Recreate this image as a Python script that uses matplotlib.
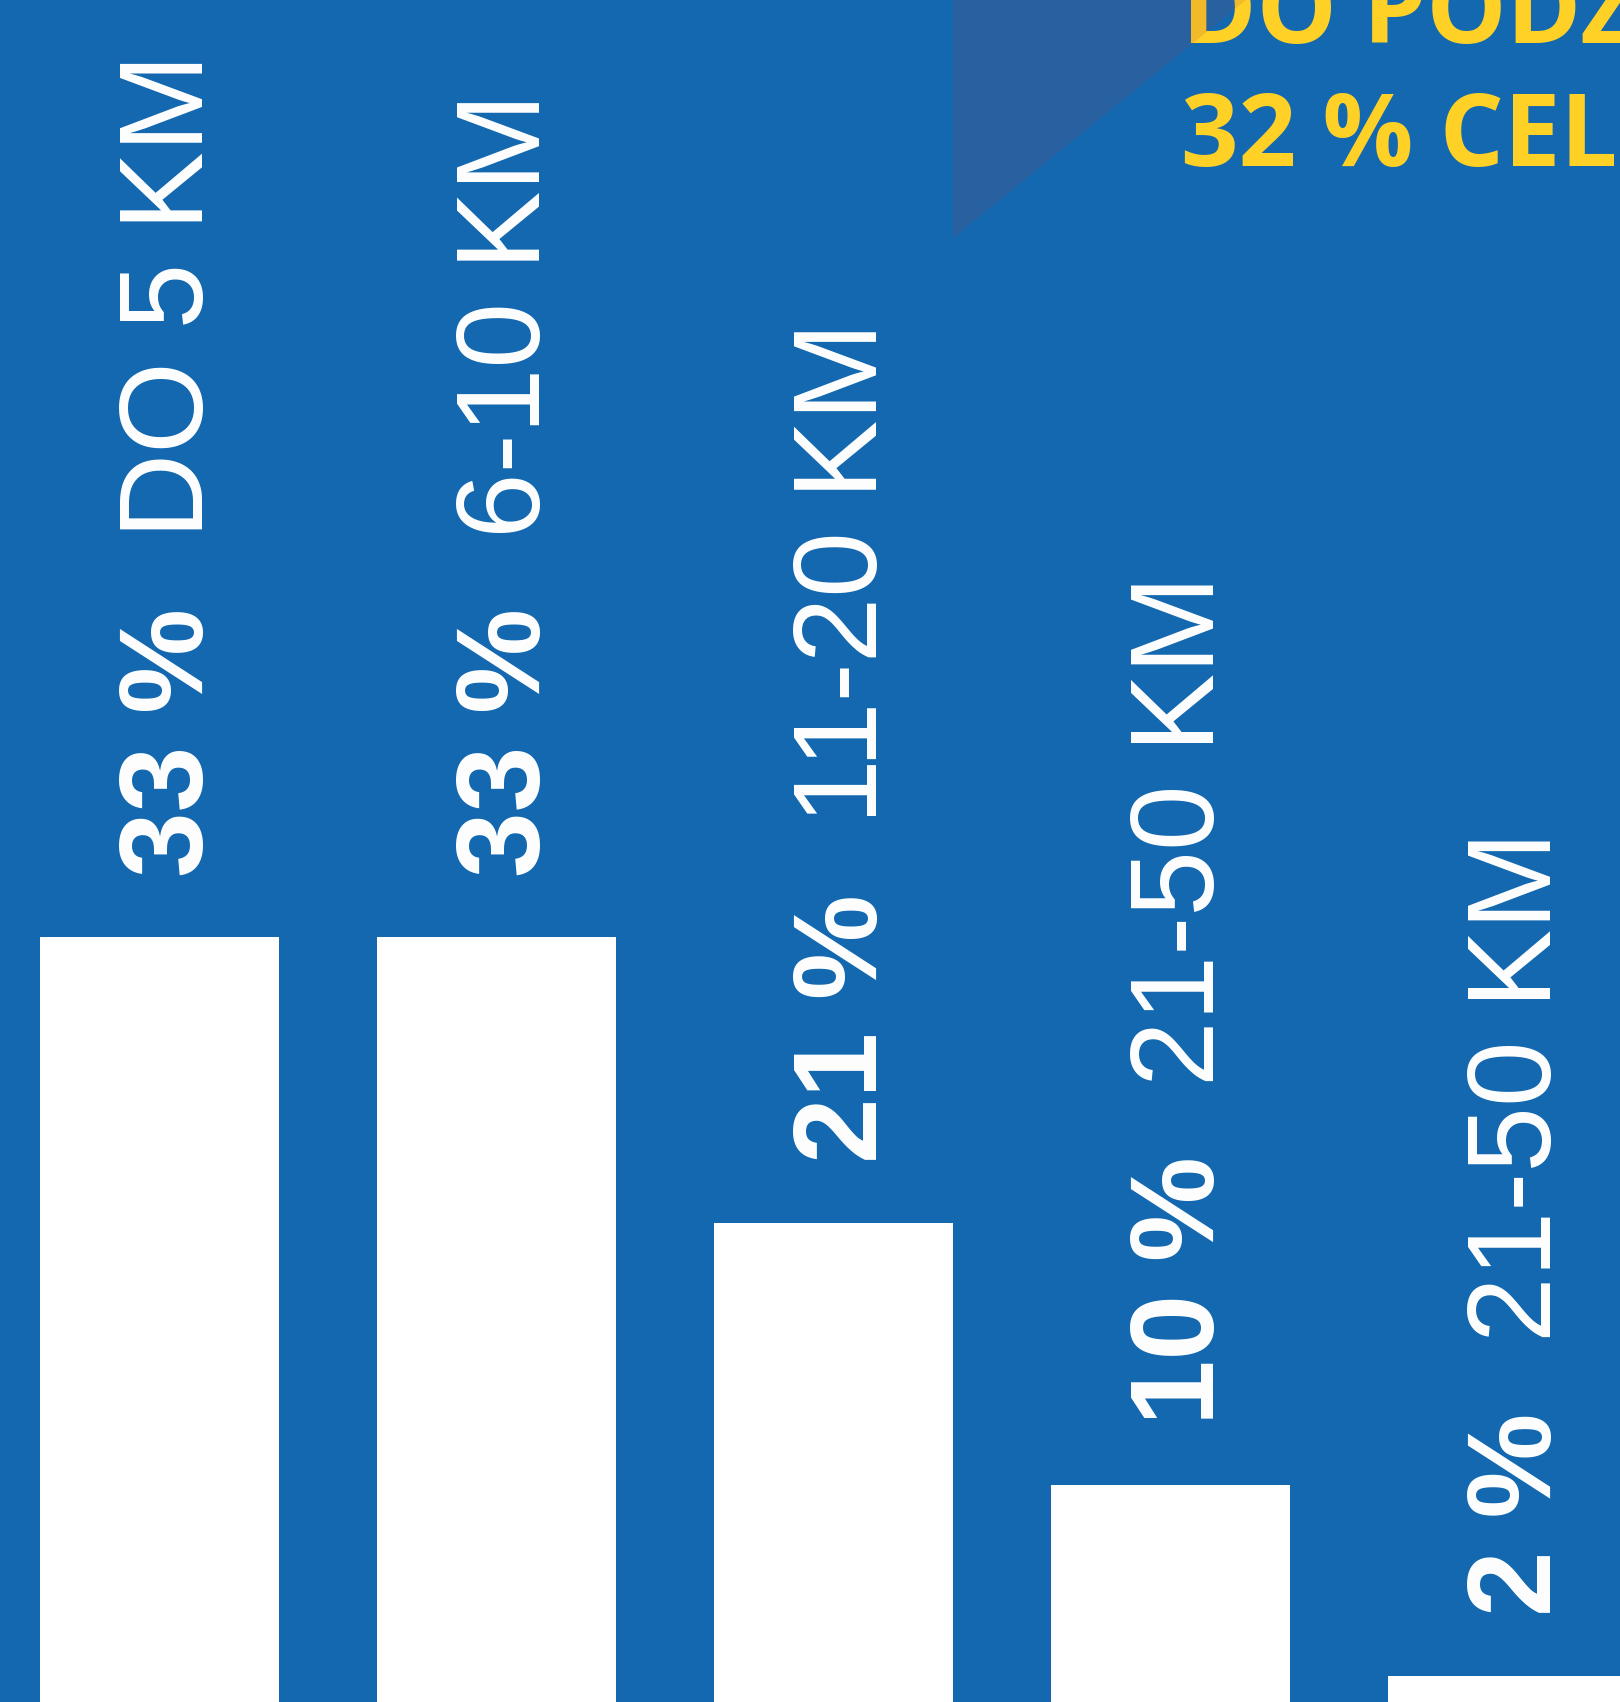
import matplotlib
matplotlib.use("Agg")
import matplotlib.pyplot as plt
from matplotlib.patches import Polygon

# dane
udzialy = [33, 33, 21, 10, 2]
procenty = ["33 %", "33 %", "21 %", "10 %", "2 %"]
dystanse = ["DO 5 KM", "6-10 KM", "11-20 KM", "21-50 KM", "21-50 KM"]
naglowek = ["DO PODZ", "32 % CEL"]

tlo = "#1368B0"
zolty = "#FFD026"
dpi = 100

fig = plt.figure(figsize=(16.2, 17.02), dpi=dpi, facecolor=tlo)
ax = fig.add_axes([0, 0, 1, 1])
ax.set_facecolor(tlo)
ax.set_xlim(-0.473, 4.334)
ax.set_ylim(0.89, 72.34)
ax.axis("off")

x = list(range(len(udzialy)))
ax.bar(x, udzialy, width=0.709, color="white", edgecolor="none")

px = 72 / dpi  # piksele -> punkty
rozmiar = 85
czcionka = "Liberation Sans"
podpisy = []
for i, v in enumerate(udzialy):
    t = ax.annotate(procenty[i], xy=(i, v), xytext=(44 * px, 60 * px),
                    textcoords="offset points", rotation=90,
                    rotation_mode="anchor", ha="left", va="baseline",
                    color="white", fontsize=rozmiar, fontweight="bold",
                    family=czcionka)
    podpisy.append(t)

fig.canvas.draw()
r = fig.canvas.get_renderer()
for i, v in enumerate(udzialy):
    h = podpisy[i].get_window_extent(r).height
    ax.annotate(dystanse[i], xy=(i, v), xytext=(44 * px, (60 + h + 70) * px),
                textcoords="offset points", rotation=90,
                rotation_mode="anchor", ha="left", va="baseline",
                color="white", fontsize=rozmiar, family=czcionka)

# nagłówek (ucięty przy krawędzi)
fig.text(1182 / 1620, 1 - 43 / 1702, naglowek[0], color=zolty,
         fontsize=72.6, fontweight="bold", family="Open Sans",
         ha="left", va="baseline")
fig.text(1181 / 1620, 1 - 166 / 1702, naglowek[1], color=zolty,
         fontsize=72.6, fontweight="bold", family="Open Sans",
         ha="left", va="baseline")

# półprzezroczysty trójkąt
tr = Polygon([(953 / 1620, 1), (953 / 1620, 1 - 238 / 1702), (1246 / 1620, 1)],
             closed=True, transform=fig.transFigure, facecolor="#AC3741",
             edgecolor="none", alpha=0.144, zorder=10)
fig.patches.append(tr)

fig.savefig("out.png", dpi=dpi, facecolor=tlo)
